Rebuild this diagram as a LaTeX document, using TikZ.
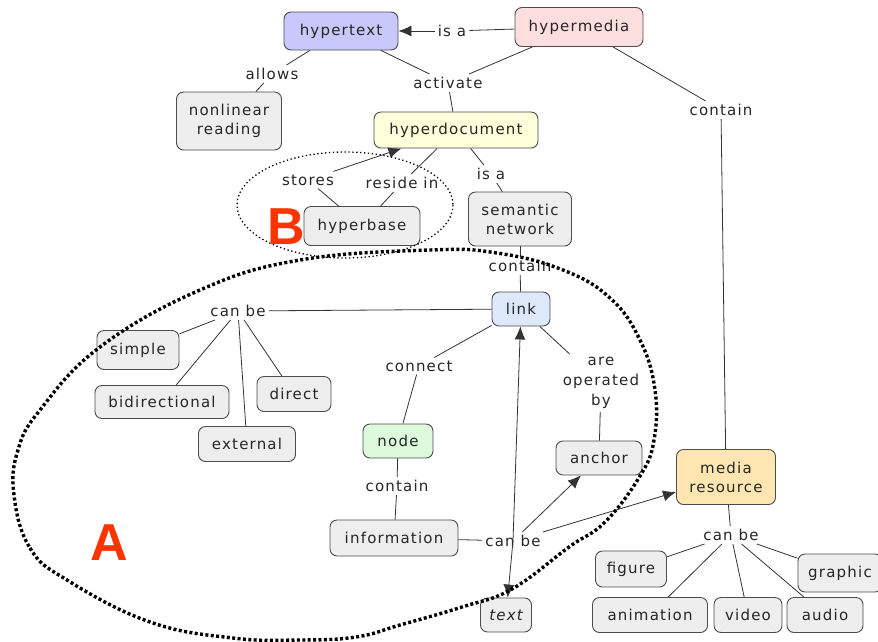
\documentclass[tikz,border=0pt]{standalone}
\usepackage{fontspec}
\usetikzlibrary{arrows.meta}
\newfontfamily\cfont[LetterSpace=8]{DejaVu Sans}
\newfontfamily\bigfont{Liberation Sans}
\definecolor{cgray}{HTML}{EEEEEE}
\definecolor{clav}{HTML}{C8C8FA}
\definecolor{cpink}{HTML}{FDDEDE}
\definecolor{cyel}{HTML}{FFFFDC}
\definecolor{cblue}{HTML}{DDE8FB}
\definecolor{cgreen}{HTML}{DDFADD}
\definecolor{corange}{HTML}{FFE6B0}
\definecolor{cred}{HTML}{FF3300}
\tikzset{
  concept/.style={draw=black!70, rounded corners=7pt, fill=cgray, line width=0.9pt,
    font=\cfont\fontsize{15}{19}\selectfont, inner sep=2pt, align=center, text=black!85},
  lbl/.style={font=\cfont\fontsize{15}{20}\selectfont, inner sep=3pt, align=center, text=black!85},
  conn/.style={draw=black!80, line width=0.8pt},
  arr/.style={conn, -{Latex[length=13pt,width=11pt]}},
  regionB/.style={draw=black, line width=1.3pt, dash pattern=on 1.3pt off 2.6pt},
  regionA/.style={draw=black, line width=3.4pt, dash pattern=on 3pt off 2.4pt},
  bigletter/.style={text=cred, font=\bigfont\bfseries\fontsize{52}{52}\selectfont, inner sep=0pt}
}
\begin{document}
\begin{tikzpicture}[x=1pt,y=-1pt]
\useasboundingbox (0,0) rectangle (878,641);
\clip (0,0) rectangle (878,641);
% concepts
\node[concept, fill=clav, minimum width=114, minimum height=38] (hypertext) at (341,31) {hypertext};
\node[concept, fill=cpink, minimum width=128, minimum height=39] (hypermedia) at (579,27) {hypermedia};
\node[concept, minimum width=105, minimum height=58] (nonlinear) at (229,121) {nonlinear\\reading};
\node[concept, fill=cyel, minimum width=164, minimum height=36] (hyperdoc) at (456,130) {hyperdocument};
\node[concept, minimum width=116, minimum height=39] (hyperbase) at (362,226) {hyperbase};
\node[concept, minimum width=103, minimum height=54] (semantic) at (520,219) {semantic\\network};
\node[concept, fill=cblue, minimum width=58, minimum height=34] (link) at (521,309) {link};
\node[concept, minimum width=82, minimum height=39] (simple) at (138,350) {simple};
\node[concept, minimum width=134, minimum height=33] (bidir) at (162,402) {bidirectional};
\node[concept, minimum width=74, minimum height=35] (direct) at (294,394) {direct};
\node[concept, minimum width=97, minimum height=35] (external) at (247,444) {external};
\node[concept, fill=cgreen, minimum width=70, minimum height=34] (node) at (398,441) {node};
\node[concept, minimum width=86, minimum height=34] (anchor) at (599,458) {anchor};
\node[concept, minimum width=128, minimum height=36] (information) at (394,538) {information};
\node[concept, minimum width=51, minimum height=34] (text) at (506,615) {\itshape text};
\node[concept, fill=corange, minimum width=99, minimum height=55] (media) at (726,477) {media\\resource};
\node[concept, minimum width=71, minimum height=36] (figure) at (631,569) {figure};
\node[concept, minimum width=84, minimum height=38] (graphic) at (840,573) {graphic};
\node[concept, minimum width=115, minimum height=35] (animation) at (650,615) {animation};
\node[concept, minimum width=68, minimum height=35] (video) at (748,615) {video};
\node[concept, minimum width=76, minimum height=35] (audio) at (825,615) {audio};
% linking phrases
\node[lbl] (isa1) at (452,31) {is a};
\node[lbl] (allows) at (272,74) {allows};
\node[lbl] (activate) at (448,83) {activate};
\node[lbl] (contain1) at (721,110) {contain};
\node[lbl] (stores) at (308,180) {stores};
\node[lbl] (residein) at (402,183) {reside in};
\node[lbl] (isa2) at (491,174) {is a};
\node[lbl] (contain2) at (520,266) {contain};
\node[lbl] (canbe1) at (238,311) {can be};
\node[lbl] (connect) at (419,366) {connect};
\node[lbl] (operated) at (601,383) {are\\operated\\by};
\node[lbl] (contain3) at (397,486) {contain};
\node[lbl] (canbe2) at (513,541) {can be};
\node[lbl] (canbe3) at (731,535) {can be};
% connectors
\draw[conn] (hypermedia) -- (isa1);
\draw[arr] (isa1) -- (hypertext);
\draw[conn] (hypertext) -- (allows);
\draw[conn] (allows) -- (nonlinear);
\draw[conn] (hypertext) -- (activate);
\draw[conn] (hypermedia) -- (activate);
\draw[conn] (activate) -- (hyperdoc);
\draw[conn] (hypermedia) -- (contain1);
\draw[conn] (contain1) -- (media);
\draw[conn] (hyperdoc) -- (residein);
\draw[conn] (residein) -- (hyperbase);
\draw[conn] (hyperbase) -- (stores);
\draw[arr] (stores) -- (hyperdoc);
\draw[conn] (hyperdoc) -- (isa2);
\draw[conn] (isa2) -- (semantic);
\draw[conn] (semantic) -- (contain2);
\draw[conn] (contain2) -- (link);
\draw[conn] (link) -- (canbe1);
\draw[conn] (canbe1) -- (simple);
\draw[conn] (canbe1) -- (bidir);
\draw[conn] (canbe1) -- (external);
\draw[conn] (canbe1) -- (direct);
\draw[conn] (link) -- (connect);
\draw[conn] (connect) -- (node);
\draw[conn] (link) -- (operated);
\draw[conn] (operated) -- (anchor);
\draw[conn] (node) -- (contain3);
\draw[conn] (contain3) -- (information);
\draw[conn] (information) -- (canbe2);
\draw[arr] (canbe2.center) -- (link);
\draw[arr] (canbe2.center) -- (text);
\draw[arr] (canbe2) -- (anchor);
\draw[arr] (canbe2) -- (media);
\draw[conn] (media) -- (canbe3);
\draw[conn] (canbe3) -- (figure);
\draw[conn] (canbe3) -- (graphic);
\draw[conn] (canbe3) -- (animation);
\draw[conn] (canbe3) -- (video);
\draw[conn] (canbe3) -- (audio);
% regions
\draw[regionB] (345,205) ellipse [x radius=108, y radius=53];
\draw[regionA] plot[smooth cycle, tension=0.7] coordinates {
  (14,495) (30,548) (67,580) (150,622) (233,638) (300,640)
  (356,637) (400,625) (462,607) (512,589) (569,547) (605,522) (640,476)
  (654,440) (655,390) (640,340) (610,298) (563,270) (497,253) (430,250)
  (300,260) (200,290) (100,347) (40,410) (18,450)};
\node[bigletter] (labB) at (286,227) {B};
\node[bigletter] (labA) at (109,543) {A};
\end{tikzpicture}
\end{document}
